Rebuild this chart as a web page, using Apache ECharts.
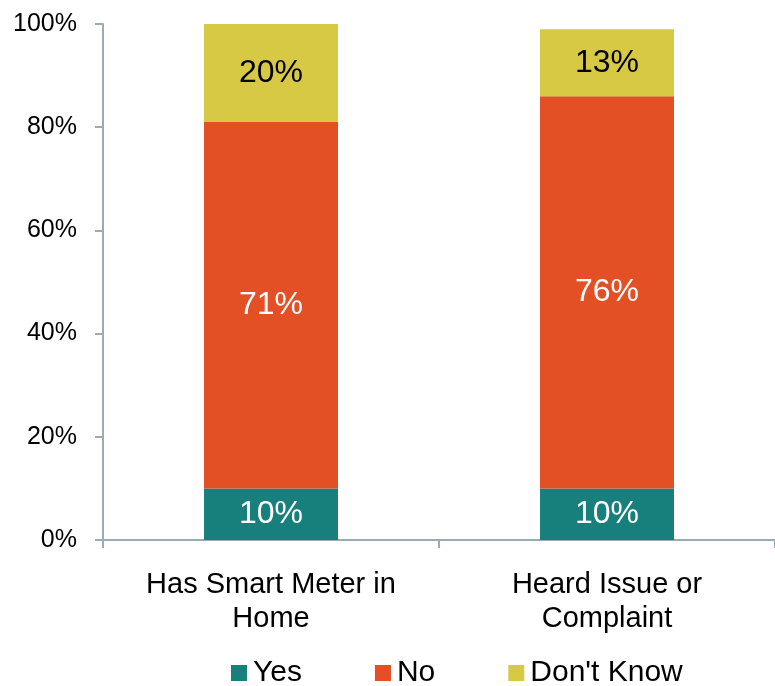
<!DOCTYPE html>
<html>
<head>
<meta charset="utf-8">
<script src="https://cdn.jsdelivr.net/npm/echarts@6/dist/echarts.min.js"></script>
<style>
  html, body { margin: 0; padding: 0; background: #fff; }
  #chart { width: 775px; height: 686px; }
</style>
</head>
<body>
<div id="chart"></div>
<script>
// Survey categories and response shares (percent)
const categories = ['Has Smart Meter in\nHome', 'Heard Issue or\nComplaint'];
const yesValues = [10, 10];
const noValues = [71, 76];
const dontKnowValues = [20, 13];
const yTicks = [0, 20, 40, 60, 80, 100];

const FONT = '"Liberation Sans", Arial, sans-serif';
const axisColor = '#9aabb3';

function segment(name, data, color, labelColor) {
  return {
    name: name,
    type: 'bar',
    stack: 'total',
    data: data,
    barWidth: 134,
    itemStyle: { color: color },
    label: {
      show: true,
      position: 'inside',
      formatter: '{c}%',
      color: labelColor,
      fontFamily: FONT,
      fontSize: 32
    }
  };
}

const chart = echarts.init(document.getElementById('chart'));
chart.setOption({
  animation: false,
  backgroundColor: '#ffffff',
  grid: { left: 103, right: 0, top: 24, bottom: 146 },
  legend: {
    top: 658,
    left: 231,
    padding: 0,
    itemWidth: 16,
    itemHeight: 16,
    itemGap: 73,
    icon: 'rect',
    textStyle: { fontFamily: FONT, fontSize: 30, color: '#000', padding: [0, 0, 0, 1] },
    data: ['Yes', 'No', "Don't Know"]
  },
  xAxis: {
    type: 'category',
    data: categories,
    axisLine: { lineStyle: { color: axisColor, width: 2 } },
    axisTick: { show: true, length: 8, lineStyle: { color: axisColor, width: 2 } },
    axisLabel: {
      fontFamily: FONT,
      fontSize: 29,
      color: '#000',
      lineHeight: 34,
      margin: 28
    }
  },
  yAxis: {
    type: 'value',
    min: yTicks[0],
    max: yTicks[yTicks.length - 1],
    interval: 20,
    splitLine: { show: false },
    axisLine: { show: true, lineStyle: { color: axisColor, width: 2 } },
    axisTick: { show: true, length: 8, lineStyle: { color: axisColor, width: 2 } },
    axisLabel: {
      formatter: '{value}%',
      fontFamily: FONT,
      fontSize: 25,
      color: '#000',
      margin: 26
    }
  },
  series: [
    segment('Yes', yesValues, '#177f7c', '#ffffff'),
    segment('No', noValues, '#e35026', '#ffffff'),
    segment("Don't Know", dontKnowValues, '#d7c944', '#000000')
  ]
});
</script>
</body>
</html>
